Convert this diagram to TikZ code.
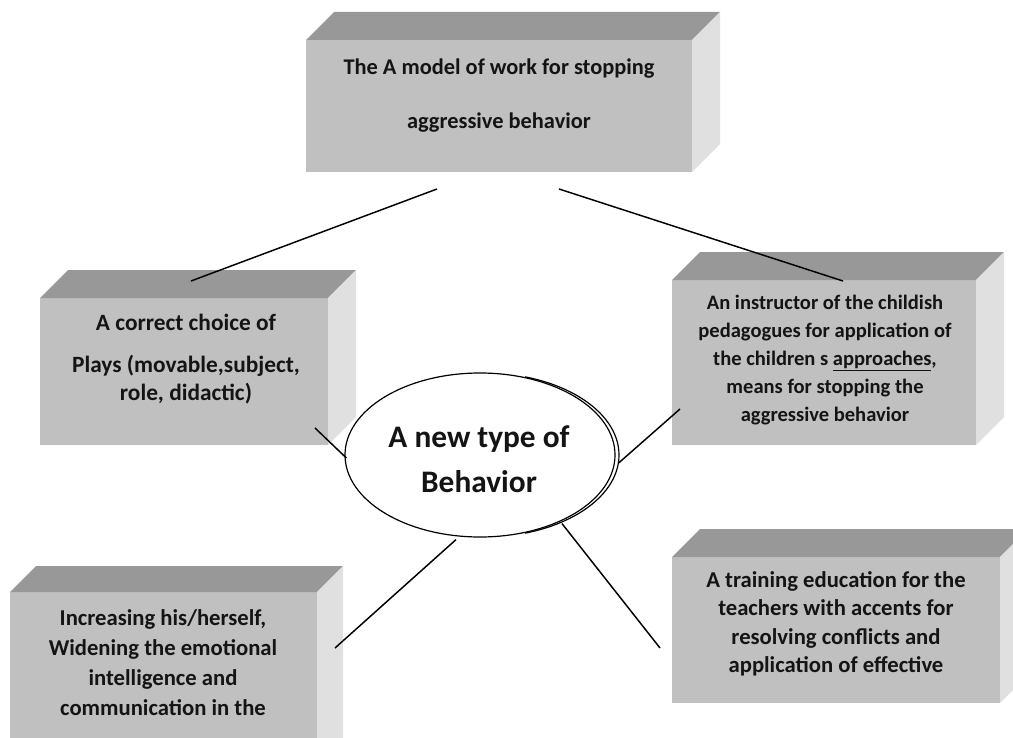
\documentclass[tikz,border=0pt]{standalone}
\usepackage{fontspec}
\setmainfont{Carlito}
\usetikzlibrary{calc,fit,shapes.geometric}

\definecolor{frontgray}{RGB}{192,192,192}
\definecolor{topgray}{RGB}{152,152,152}
\definecolor{sidegray}{RGB}{224,224,224}
\definecolor{inkgray}{RGB}{20,20,20}
\newcommand{\px}{0.75pt}

% top and right faces of a block whose front face is node #1, depth #2
\newcommand{\blockfaces}[2]{%
  \fill[topface] (#1.north west) -- ++(#2,-#2) -- ($(#1.north east)+(#2,-#2)$) -- (#1.north east) -- cycle;
  \fill[sideface] (#1.north east) -- ++(#2,-#2) -- ($(#1.south east)+(#2,-#2)$) -- (#1.south east) -- cycle;}

\begin{document}
\begin{tikzpicture}[x=0.75pt,y=-0.75pt,
  front/.style={fill=frontgray, inner sep=0pt, outer sep=0pt},
  topface/.style={fill=topgray},
  sideface/.style={fill=sidegray},
  boxtext/.style={text=inkgray, align=center, inner sep=0pt},
  link/.style={draw=black, line width=1.1pt},
  rim/.style={draw=black, line width=0.9pt, ellipse, inner sep=0pt,
    minimum width=270*\px, minimum height=164*\px}
]
\useasboundingbox (0,0) rectangle (1013,738);
\clip (0,0) rectangle (1013,738);

% blocks
\node[front, fit={(306,40)(692,172)}] (model) {};
\blockfaces{model}{28}
\node[front, fit={(40,298)(328,445)}] (plays) {};
\blockfaces{plays}{28}
\node[front, fit={(672,280)(976,445)}] (instr) {};
\blockfaces{instr}{28}
\node[front, fit={(10,592)(317,780)}] (emot) {};
\blockfaces{emot}{26}
\node[front, fit={(672,557)(1000,703)}] (train) {};
\blockfaces{train}{28}

% block texts
\node[boxtext, font=\bfseries\fontsize{16.8}{40.5}\selectfont] (model-t) at (499,96)
  {The A model of work for stopping\\aggressive behavior};
\node[boxtext, font=\bfseries\fontsize{17.5}{21}\selectfont] (plays-t) at (186,359)
  {A correct choice of\\[11pt]Plays (movable,subject,\\role, didactic)};
\node[boxtext, font=\bfseries\fontsize{15.4}{21}\selectfont] (instr-t) at (825,360)
  {An instructor of the childish\\pedagogues for application of\\the children s \underline{approaches},\\means for stopping the\\aggressive behavior};
\node[boxtext, font=\bfseries\fontsize{17}{22.5}\selectfont] (emot-t) at (163,663)
  {Increasing his/herself,\\Widening the emotional\\intelligence and\\communication in the};
\node[boxtext, font=\bfseries\fontsize{17}{21.4}\selectfont] (train-t) at (836,624)
  {A training education for the\\teachers with accents for\\resolving conflicts and\\application of effective};

% connectors between the upper blocks
\draw[link] ($(model.south)+(-62,17)$) -- ($(plays.north)+(7,-17)$);
\draw[link] ($(model.south)+(60,17)$) -- ($(instr.north)+(19,1)$);

% central ellipse with its doubled right rim
\node[rim, fill=white] (ell) at (480,455) {};
\begin{scope}
  \clip (525,360) rectangle (640,545);
  \node[rim] (ell-rim) at (484,455) {};
\end{scope}
\node[text=inkgray, align=center, inner sep=0pt,
  font=\bfseries\fontsize{23.5}{33.75}\selectfont] (ell-t) at (479,459)
  {A new type of\\Behavior};

% connectors around the ellipse
\draw[link] ($(plays.south east)+(-13,-17)$) -- ($(ell.west)+(2,3)$);
\draw[link] ($(instr.south west)+(8,-36)$) -- ($(ell.east)+(3,8)$);
\draw[link] ($(ell.south)+(-24,2)$) -- ($(emot.north east)+(18,56)$);
\draw[link] ($(ell.south)+(82,-14)$) -- ($(train.west)+(-12,18)$);
\end{tikzpicture}
\end{document}
